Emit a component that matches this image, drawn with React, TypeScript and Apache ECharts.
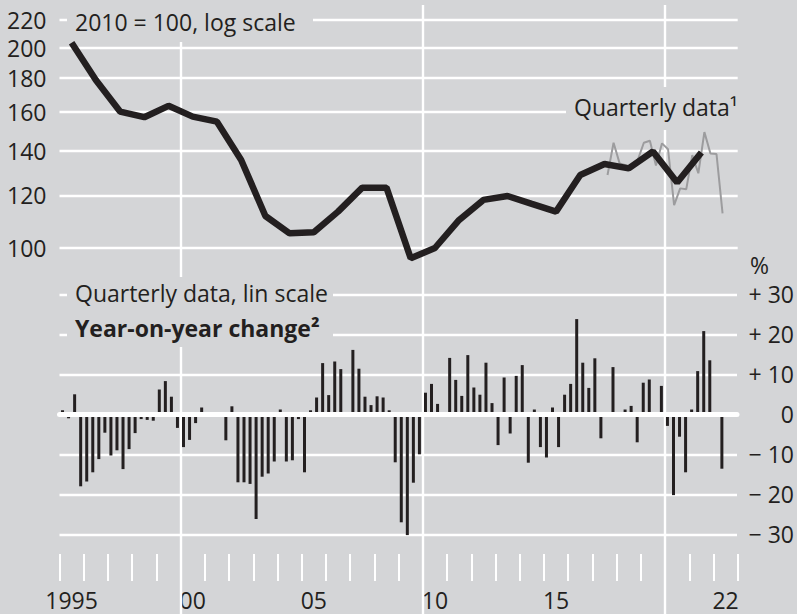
import React, { useEffect, useRef } from "react";
import * as echarts from "echarts";

// ---- data ----
const annualYears = [1995, 1996, 1997, 1998, 1999, 2000, 2001, 2002, 2003, 2004, 2005, 2006, 2007, 2008, 2009, 2010, 2011, 2012, 2013, 2014, 2015, 2016, 2017, 2018, 2019, 2020, 2021];
const annualIndex = [203.3, 178.8, 160.3, 157.2, 163.5, 157.5, 154.8, 135.6, 111.7, 105.2, 105.6, 113.4, 123.2, 123.2, 96.5, 100.0, 110.2, 118.1, 119.7, 116.5, 113.4, 128.7, 133.7, 131.7, 139.6, 125.4, 139.1];

const quarterlyPeriods = ["2017-Q3", "2017-Q4", "2018-Q1", "2018-Q2", "2018-Q3", "2018-Q4", "2019-Q1", "2019-Q2", "2019-Q3", "2019-Q4", "2020-Q1", "2020-Q2", "2020-Q3", "2020-Q4", "2021-Q1", "2021-Q2", "2021-Q3", "2021-Q4", "2022-Q1", "2022-Q2"];
const quarterlyIndex = [128.7, 143.9, 134.0, 133.2, 132.4, 135.6, 143.9, 144.9, 133.0, 143.6, 140.7, 116.0, 122.9, 122.5, 137.9, 129.5, 149.3, 138.7, 138.4, 112.7];

const yoyStart = "1995-Q1";
const yoyChange = [
  1, -1, 5, -18,
  -16.8, -14.5, -11.2, -4.6,
  -10.3, -9, -13.7, -8.7,
  -4.7, -1.2, -1.4, -1.6,
  6.2, 8.3, 4.4, -3.4,
  -8.2, -6.4, -2.2, 1.7,
  -0.3, 0.3, 0.3, -6.5,
  2, -17, -17, -17.4,
  -26.2, -15.6, -14.8, -11.8,
  1.2, -11.8, -11.5, -1.2,
  -14.5, 1, 4.2, 12.8,
  4.8, 13.2, 11.3, -0.3,
  16.1, 11.4, 4.4, 2.3,
  4.5, 4.2, 1, -12,
  -27, -30.2, -17.1, -10,
  5.4, 7.6, 2.6, -0.2,
  14.1, 8.6, 4.6, 14.8,
  6.7, 4.9, 12.9, 2.8,
  -7.7, 9.2, -4.8, 9.6,
  12.3, -12.1, 1.2, -8.2,
  -10.8, 1.7, -8.2, 4.9,
  7.6, 23.8, 12.9, 6.6,
  14, -6, 0.4, 11.8,
  0.2, 1.2, 2.1, -7,
  7.9, 8.7, -0.3, 7.1,
  -2.9, -20.2, -5.6, -14.5,
  1.2, 10.8, 20.8, 13.5,
  -0.5, -13.6,
];

const logTicks = [100, 120, 140, 160, 180, 200, 220];
const yoyTicks = { min: -30, max: 30, step: 10 };
const decadeLines = [2000, 2010, 2020];
const xFirstYear = 1995;
const xLastYear = 2023;
const xLabelYears = [1995, 2000, 2005, 2010, 2015, 2022];
const xLabelTexts = ["1995", "00", "05", "10", "15", "22"];

// ---- style ----
const BG = "#d4d5d7";
const INK = "#231f20";
const GREY = "#9c9c9e";
const FONT = "'Open Sans', sans-serif";
const FS = 23;
const X0 = 59.5;
const XW = 678.2;

function periodToX(p: string) {
  const [y, q] = p.split("-Q");
  return Number(y) + (Number(q) - 0.5) / 4;
}

export default function App() {
  const ref = useRef<HTMLDivElement>(null);
  useEffect(() => {
    if (!ref.current) return;
    const chart = echarts.init(ref.current, undefined, { renderer: "svg" });
    const startX = periodToX(yoyStart);
    const yearCats: string[] = [];
    for (let y = xFirstYear; y < xLastYear; y++) yearCats.push(String(y));

    const option: any = {
      animation: false,
      backgroundColor: BG,
      textStyle: { fontFamily: FONT },
      grid: [
        { left: X0, width: XW, top: 7.15, height: 255.68 },
        { left: X0, width: XW, top: 294.3, height: 240 },
        { left: X0, width: XW, top: 5, height: 609 },
        { left: X0, width: XW, top: 554, height: 27 },
      ],
      xAxis: [
        { gridIndex: 0, type: "value", min: xFirstYear, max: xLastYear, show: false },
        {
          gridIndex: 1, type: "value", min: xFirstYear, max: xLastYear, z: 6,
          axisLine: { show: true, onZero: true, lineStyle: { color: "#fff", width: 5 } },
          axisTick: { show: false }, axisLabel: { show: false }, splitLine: { show: false },
        },
        { gridIndex: 2, type: "value", min: xFirstYear, max: xLastYear, show: false },
        {
          gridIndex: 3, type: "category", data: yearCats, boundaryGap: true,
          axisLine: { show: false }, axisTick: { show: false },
          splitLine: { show: true, interval: 0, lineStyle: { color: "#fff", width: 2 } },
          axisLabel: {
            interval: 0, margin: 7, fontSize: FS, color: INK, fontFamily: FONT,
            formatter: (v: string) => {
              const i = xLabelYears.indexOf(Number(v));
              return i >= 0 ? xLabelTexts[i] : "";
            },
          },
        },
      ],
      yAxis: [
        { gridIndex: 0, type: "log", min: 95, max: 230, show: false },
        {
          gridIndex: 1, type: "value", min: yoyTicks.min, max: yoyTicks.max, interval: yoyTicks.step,
          position: "right",
          axisLine: { show: false }, axisTick: { show: false },
          splitLine: { show: true, lineStyle: { color: "#fff", width: 2.4 } },
          axisLabel: {
            align: "right", margin: 57, fontSize: FS, color: INK, fontFamily: FONT,
            formatter: (v: number) => (v > 0 ? "+ " + v : v < 0 ? "\u2212 " + -v : "0"),
          },
        },
        { gridIndex: 2, type: "value", min: 0, max: 1, show: false },
        { gridIndex: 3, type: "value", min: 0, max: 1, show: false },
      ],
      series: [
        {
          type: "line", xAxisIndex: 0, yAxisIndex: 0, data: [], z: 1, silent: true,
          markLine: {
            z: 1, silent: true, symbol: "none", animation: false,
            lineStyle: { color: "#fff", width: 2.4, type: "solid" },
            label: { show: true, position: "start", distance: 13, fontSize: FS, color: INK, fontFamily: FONT, formatter: (p: any) => String(p.value) },
            emphasis: { disabled: true },
            data: logTicks.map((v) => ({ yAxis: v })),
          },
        },
        {
          type: "line", xAxisIndex: 2, yAxisIndex: 2, data: [], z: 1, silent: true,
          markLine: {
            z: 1, silent: true, symbol: "none", animation: false,
            lineStyle: { color: "#fff", width: 2.4, type: "solid" },
            label: { show: false },
            emphasis: { disabled: true },
            data: decadeLines.map((x) => ({ xAxis: x })),
          },
        },
        {
          type: "bar", xAxisIndex: 1, yAxisIndex: 1, z: 3, clip: false, barWidth: 3,
          itemStyle: { color: INK },
          data: yoyChange.map((v, i) => [startX + i / 4, v]),
        },
        {
          type: "line", xAxisIndex: 0, yAxisIndex: 0, z: 4, symbol: "none",
          lineStyle: { color: GREY, width: 2 },
          data: quarterlyPeriods.map((p, i) => [periodToX(p), quarterlyIndex[i]]),
        },
        {
          type: "line", xAxisIndex: 0, yAxisIndex: 0, z: 5, symbol: "none",
          lineStyle: { color: INK, width: 6.5 },
          data: annualYears.map((y, i) => [y + 0.5, annualIndex[i]]),
        },
      ],
      graphic: [
        { type: "rect", z: 2, shape: { x: 67, y: 0, width: 246, height: 42 }, style: { fill: BG } },
        { type: "text", z: 2, style: { x: 75, y: 22, text: "2010 = 100, log scale", fill: INK, fontSize: FS, fontFamily: FONT, verticalAlign: "middle" } },
        { type: "rect", z: 2, shape: { x: 67, y: 277, width: 266, height: 70 }, style: { fill: BG } },
        { type: "text", z: 2, style: { x: 75, y: 292.5, text: "Quarterly data, lin scale", fill: INK, fontSize: FS, fontFamily: FONT, verticalAlign: "middle" } },
        { type: "text", z: 2, style: { x: 75, y: 327.5, text: "Year-on-year change\u00b2", fill: INK, fontSize: FS, fontWeight: "bold", fontFamily: FONT, verticalAlign: "middle" } },
        { type: "rect", z: 2, shape: { x: 566, y: 87, width: 175, height: 43 }, style: { fill: BG } },
        { type: "text", z: 2, style: { x: 574, y: 107, text: "Quarterly data\u00b9", fill: INK, fontSize: FS, fontFamily: FONT, verticalAlign: "middle" } },
        { type: "text", z: 2, style: { x: 750, y: 265, text: "%", fill: INK, fontSize: FS, fontFamily: FONT, verticalAlign: "middle" } },
      ],
    };
    chart.setOption(option);
    return () => chart.dispose();
  }, []);
  return (
    <div
      ref={ref}
      style={{ position: "absolute", left: 0, top: 0, width: 797, height: 614, background: BG }}
    />
  );
}
